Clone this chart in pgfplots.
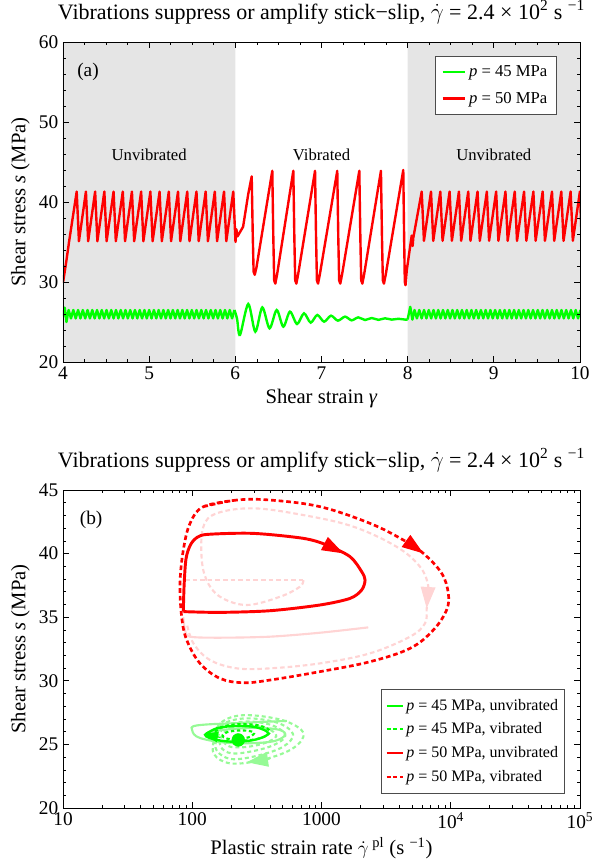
\documentclass[border=0pt]{standalone}
\usepackage{fontspec}
\setmainfont{Liberation Serif}
\usepackage{pgfplots}
\pgfplotsset{compat=1.18}
\usetikzlibrary{arrows.meta}
\definecolor{pgreen}{RGB}{0,255,0}
\definecolor{pred}{RGB}{255,0,0}
\definecolor{lgreen}{RGB}{150,250,150}
\definecolor{lpink}{RGB}{255,212,212}
\definecolor{shade}{RGB}{229,229,229}
\newcommand{\bigf}{\fontsize{14.5}{17}\selectfont}
\newcommand{\labf}{\fontsize{15.5}{18}\selectfont}
\newcommand{\titf}{\fontsize{16.5}{19}\selectfont}
\newcommand{\smf}{\fontsize{12.5}{15}\selectfont}
\newcommand{\legf}{\fontsize{12}{14}\selectfont}
\pgfplotsset{
  myaxis/.style={
    scale only axis, width=387.75pt,
    tick align=inside, xtick pos=both, ytick pos=both,
    major tick length=4.5pt, minor tick length=2.5pt,
    every tick/.style={black, line width=0.5pt},
    axis line style={black, line width=0.6pt},
    tick label style={font=\bigf},
    label style={font=\labf},
    title style={font=\titf, yshift=4pt},
    /pgf/number format/assume math mode=true,
    axis on top,
    legend cell align=left,
    legend style={font=\smf, draw=black!70, fill=white, inner xsep=5pt, inner ysep=5pt, row sep=6pt},
  },
  arr/.style={line width=0.8pt, -{Triangle[length=16pt,width=11pt]}, shorten >=0pt, forget plot},
}
\begin{document}
\begin{tikzpicture}
\path[use as bounding box] (-47.25pt,31.5pt) rectangle (408.75pt,-617.25pt);
% ---------------- panel (a)
\begin{axis}[myaxis, at={(0pt,0pt)}, anchor=north west, height=240pt,
  xmin=4, xmax=10, ymin=20, ymax=60,
  xtick={4,5,6,7,8,9,10}, minor x tick num=3,
  ytick={20,30,40,50,60}, minor y tick num=4,
  xlabel={Shear strain \textit{γ}},
  ylabel={Shear stress \textit{s} (MPa)},
  title={Vibrations suppress or amplify stick−slip, $\dot{\gamma}$ = 2.4 × 10\textsuperscript{2} s \textsuperscript{−1}},
  legend style={at={(0.9555,0.956)}, anchor=north east},
]
\addplot[draw=none, fill=shade, forget plot] coordinates {(4,20) (6,20) (6,60) (4,60) (4,20)};
\addplot[draw=none, fill=shade, forget plot] coordinates {(8,20) (10,20) (10,60) (8,60) (8,20)};
\addlegendimage{pgreen, line width=1.6pt}
\addlegendentry{\textit{p} = 45 MPa}
\addlegendimage{pred, line width=1.6pt}
\addlegendentry{\textit{p} = 50 MPa}
% red
\addplot[pred, line width=1.8pt, line join=round, forget plot] coordinates {
(4.000,29.9) (4.040,32.7) (4.070,35.0) (4.159,41.3) (4.185,35.1) (4.266,41.3) (4.292,35.1) (4.373,41.3) (4.399,35.1) (4.480,41.3) (4.506,35.1) (4.587,41.3) (4.613,35.1) (4.694,41.3) (4.720,35.1) (4.800,41.3) (4.826,35.1) (4.907,41.3) (4.933,35.1) (5.014,41.3) (5.040,35.1) (5.121,41.3) (5.147,35.1) (5.228,41.3) (5.254,35.1) (5.335,41.3) (5.361,35.1) (5.442,41.3) (5.468,35.1) (5.549,41.3) (5.575,35.1) (5.656,41.3) (5.682,35.1) (5.762,41.3) (5.788,35.1) (5.869,41.3) (5.895,35.1) (5.976,41.3) (6.002,35.0)
(6.012,36.6) (6.025,35.7) (6.090,36.9) (6.150,41.0) (6.190,43.2) (6.202,36.0) (6.212,31.3) (6.225,30.9) (6.245,31.8)
(6.429,43.9) (6.441,35.5) (6.451,30.2) (6.464,29.8) (6.484,30.9)
(6.673,43.9) (6.685,35.5) (6.695,30.2) (6.708,29.8) (6.728,30.9)
(6.925,43.9) (6.937,35.5) (6.947,30.2) (6.960,29.8) (6.980,30.9)
(7.183,43.9) (7.195,35.5) (7.205,30.2) (7.218,29.8) (7.238,30.9)
(7.439,43.9) (7.451,35.5) (7.461,30.2) (7.474,29.8) (7.494,30.9)
(7.690,43.9) (7.702,35.5) (7.712,30.2) (7.725,29.8) (7.745,30.9)
(7.949,44.0) (7.959,35.5) (7.967,30.0) (7.975,29.6) (7.990,31.5) (8.047,35.8) (8.058,34.5) (8.065,35.5) (8.163,41.3)
(8.189,35.15) (8.271,41.3) (8.297,35.15) (8.379,41.3) (8.405,35.15) (8.487,41.3) (8.513,35.15) (8.595,41.3) (8.621,35.15) (8.703,41.3) (8.729,35.15) (8.811,41.3) (8.837,35.15) (8.919,41.3) (8.945,35.15) (9.027,41.3) (9.053,35.15) (9.135,41.3) (9.161,35.15) (9.243,41.3) (9.269,35.15) (9.351,41.3) (9.377,35.15) (9.459,41.3) (9.485,35.15) (9.567,41.3) (9.593,35.15) (9.675,41.3) (9.701,35.15) (9.783,41.3) (9.809,35.15) (9.891,41.3) (9.917,35.15) (9.999,41.3) (10.02,35.15)
};
% green unvibrated 4-6
\addplot[pgreen, line width=1.8pt, line join=round, forget plot] coordinates {
(4.000,25.7) (4.020,26.8) (4.040,25.0)
(4.065,26.5) (4.0925,25.45) (4.120,26.5) (4.1475,25.45) (4.175,26.5) (4.2025,25.45) (4.230,26.5) (4.2575,25.45) (4.285,26.5) (4.3125,25.45) (4.340,26.5) (4.3675,25.45) (4.395,26.5) (4.4225,25.45) (4.450,26.5) (4.4775,25.45) (4.505,26.5) (4.5325,25.45) (4.560,26.5) (4.5875,25.45) (4.615,26.5) (4.6425,25.45) (4.670,26.5) (4.6975,25.45) (4.725,26.5) (4.7525,25.45) (4.780,26.5) (4.8075,25.45) (4.835,26.5) (4.8625,25.45) (4.890,26.5) (4.9175,25.45) (4.945,26.5) (4.9725,25.45) (5.000,26.5) (5.0275,25.45) (5.055,26.5) (5.0825,25.45) (5.110,26.5) (5.1375,25.45) (5.165,26.5) (5.1925,25.45) (5.220,26.5) (5.2475,25.45) (5.275,26.5) (5.3025,25.45) (5.330,26.5) (5.3575,25.45) (5.385,26.5) (5.4125,25.45) (5.440,26.5) (5.4675,25.45) (5.495,26.5) (5.5225,25.45) (5.550,26.5) (5.5775,25.45) (5.605,26.5) (5.6325,25.45) (5.660,26.5) (5.6875,25.45) (5.715,26.5) (5.7425,25.45) (5.770,26.5) (5.7975,25.45) (5.825,26.5) (5.8525,25.45) (5.880,26.5) (5.9075,25.45) (5.935,26.5) (5.9625,25.45) (5.990,26.5)
};
% green vibrated 6-8
\addplot[pgreen, line width=1.8pt, smooth, tension=0.5, forget plot] coordinates {
(5.990,26.5) (6.020,25.4) (6.054,23.38) (6.150,27.25) (6.232,23.79) (6.313,26.83) (6.397,24.21) (6.480,26.5) (6.557,24.42) (6.634,26.29) (6.716,24.75) (6.797,26.08) (6.874,24.92) (6.951,25.88) (7.030,25.04) (7.110,25.79) (7.190,25.17) (7.273,25.67) (7.350,25.21) (7.427,25.58) (7.505,25.25) (7.582,25.50) (7.660,25.27) (7.737,25.46) (7.815,25.30) (7.891,25.40) (7.970,25.30) (8.000,25.32)
};
% green unvibrated 8-10
\addplot[pgreen, line width=1.8pt, line join=round, forget plot] coordinates {
(8.000,25.32) (8.030,26.9) (8.055,25.3) (8.080,26.5) (8.1075,25.45) (8.135,26.5) (8.1625,25.45) (8.190,26.5) (8.2175,25.45) (8.245,26.5) (8.2725,25.45) (8.300,26.5) (8.3275,25.45) (8.355,26.5) (8.3825,25.45) (8.410,26.5) (8.4375,25.45) (8.465,26.5) (8.4925,25.45) (8.520,26.5) (8.5475,25.45) (8.575,26.5) (8.6025,25.45) (8.630,26.5) (8.6575,25.45) (8.685,26.5) (8.7125,25.45) (8.740,26.5) (8.7675,25.45) (8.795,26.5) (8.8225,25.45) (8.850,26.5) (8.8775,25.45) (8.905,26.5) (8.9325,25.45) (8.960,26.5) (8.9875,25.45) (9.015,26.5) (9.0425,25.45) (9.070,26.5) (9.0975,25.45) (9.125,26.5) (9.1525,25.45) (9.180,26.5) (9.2075,25.45) (9.235,26.5) (9.2625,25.45) (9.290,26.5) (9.3175,25.45) (9.345,26.5) (9.3725,25.45) (9.400,26.5) (9.4275,25.45) (9.455,26.5) (9.4825,25.45) (9.510,26.5) (9.5375,25.45) (9.565,26.5) (9.5925,25.45) (9.620,26.5) (9.6475,25.45) (9.675,26.5) (9.7025,25.45) (9.730,26.5) (9.7575,25.45) (9.785,26.5) (9.8125,25.45) (9.840,26.5) (9.8675,25.45) (9.895,26.5) (9.9225,25.45) (9.950,26.5) (9.9775,25.45) (10.005,26.5)
};
\node[font=\bigf] at (axis cs:4.29,56.25) {(a)};
\node[font=\smf] at (axis cs:5,45.9) {Unvibrated};
\node[font=\smf] at (axis cs:7,45.9) {Vibrated};
\node[font=\smf] at (axis cs:9,45.9) {Unvibrated};
\end{axis}
% ---------------- panel (b)
\begin{axis}[myaxis, at={(0pt,-336pt)}, anchor=north west, height=238.5pt,
  xmode=log, xmin=10, xmax=100000, ymin=20, ymax=45,
  xtick={10,100,1000,10000,100000},
  xticklabels={10,100,1000,10\textsuperscript{4},10\textsuperscript{5}},
  ytick={20,25,30,35,40,45}, minor y tick num=4,
  xlabel={Plastic strain rate $\dot{\gamma}$\textsuperscript{ pl} (s \textsuperscript{−1})},
  ylabel={Shear stress \textit{s} (MPa)},
  title={Vibrations suppress or amplify stick−slip, $\dot{\gamma}$ = 2.4 × 10\textsuperscript{2} s \textsuperscript{−1}},
  legend style={at={(0.971,0.047)}, anchor=south east, font=\legf, row sep=4pt, inner xsep=3pt},
  legend image code/.code={\draw[#1] (0cm,0cm) -- (0.42cm,0cm);},
]
\addlegendimage{pgreen, line width=1.6pt}
\addlegendentry{\textit{p} = 45 MPa, unvibrated}
\addlegendimage{pgreen, line width=1.6pt, dash pattern=on 3pt off 2pt}
\addlegendentry{\textit{p} = 45 MPa, vibrated}
\addlegendimage{pred, line width=1.6pt}
\addlegendentry{\textit{p} = 50 MPa, unvibrated}
\addlegendimage{pred, line width=1.6pt, dash pattern=on 3pt off 2pt}
\addlegendentry{\textit{p} = 50 MPa, vibrated}
% light pink transients
\addplot[lpink, line width=1.6pt, dash pattern=on 3.5pt off 2.2pt, forget plot] coordinates {(87.9,37.92) (723,37.92)};
\addplot[lpink, line width=1.6pt, dash pattern=on 3.5pt off 2.2pt, smooth, tension=0.6, forget plot] coordinates {
(723,37.92) (682,37.40) (478,36.61) (264,35.96) (164,36.61) (129,37.92) (118,39.76) (122,42.12) (155,43.17) (297,43.56) (723,43.03) (1762,42.12) (3811,40.54) (5781,38.97) (6711,37.40) (6516,35.70) (6324,34.52) (4842,33.47) (2371,32.16) (973,31.37) (400,30.98) (221,30.98) (137,31.64) (102,32.95) (90.6,34.52)
};
\addplot[lpink, line width=1.6pt, smooth, tension=0.5, forget plot] coordinates {
(2301,34.2) (973,33.78) (400,33.47) (164,33.39) (96.2,33.47) (87.9,33.99) (85.3,35.0)
};
\addplot[lpink, arr] coordinates {(6700,37.6) (6516,35.70)};
% light green transients
\addplot[lgreen, line width=1.6pt, dash pattern=on 3pt off 2.2pt, smooth, tension=0.6, forget plot] coordinates {
(144.5,25.3) (166,26.7) (251,27.3) (501,26.9) (724,25.9) (603,24.7) (355,23.8) (200,23.5) (148,24.2)
(148,25.4) (174,26.6) (263,27.05) (457,26.7) (603,25.8) (501,24.8) (316,24.1) (200,23.85) (155,24.5)
(155,25.45) (182,26.4) (263,26.8) (417,26.5) (525,25.7) (427,24.95) (288,24.45) (200,24.3) (166,24.8)
(166,25.5) (191,26.2) (263,26.5) (380,26.25) (447,25.65) (363,25.1) (263,24.8) (200,24.8) (178,25.1)
};
\addplot[lgreen, line width=1.6pt, smooth, tension=0.6, forget plot] coordinates {
(540,26.85) (250,26.7) (110,26.5) (100,26.1) (115,25.5) (200,25.1) (400,25.2) (520,25.7) (470,26.15) (300,26.3) (160,26.1) (126,25.74)
};
\addplot[lgreen, arr] coordinates {(400,23.85) (264,23.6)};
% red dashed vibrated limit cycle
\addplot[pred, line width=2pt, dash pattern=on 3.5pt off 2.2pt, smooth, tension=0.6, forget plot] coordinates {
(122,43.69) (221,44.21) (400,44.21) (973,43.69) (2371,42.38) (4295,41.07) (6138,40.02) (8511,38.45) (9572,36.88) (9290,35.57) (7328,33.99) (4842,32.55) (2371,31.50) (973,30.72) (400,30.06) (248,29.85) (164,30.19) (114.8,31.37) (90.6,33.21) (82.8,35.04) (80.4,37.66) (85.3,40.28) (96.2,42.38) (122,43.69) (221,44.21)
};
\addplot[pred, arr] coordinates {(4500,41.0) (6138,40.02)};
% red solid unvibrated limit cycle
\addplot[pred, line width=2.2pt, smooth, tension=0.5, line join=round, forget plot] coordinates {
(85.3,35.44) (86.5,37.5) (89.5,39.6) (97,40.7) (110,41.3) (135,41.52) (297,41.59) (723,41.20) (1096,40.68) (1663,39.76) (2046,38.58) (2173,37.92) (2046,37.14) (1663,36.48) (973,35.96) (400,35.51) (164,35.38) (85.3,35.44)
};
\addplot[pred, arr] coordinates {(1050,40.8) (1476,40.02)};
% green limit cycle and vibrated
\addplot[pgreen, line width=1.8pt, smooth, tension=0.6, forget plot] coordinates {
(126,25.74) (155,26.27) (221,26.45) (315,26.34) (388,25.87) (315,25.40) (221,25.21) (155,25.35) (126,25.74) (155,26.27)
};
\addplot[pgreen, line width=1.6pt, dash pattern=on 2.5pt off 2pt, smooth, tension=0.6, forget plot] coordinates {
(150,26.0) (180,26.45) (250,26.6) (340,26.45) (400,26.0) (340,25.5) (240,25.3) (175,25.55) (185,25.95) (240,26.1) (300,25.95) (280,25.6) (240,25.45) (227,25.35)
};
\addplot[pgreen, line width=0.8pt, -{Triangle[length=11pt,width=8pt]}, forget plot] coordinates {(165,25.55) (122,25.8)};
\addplot[pgreen, only marks, mark=*, mark size=4.8pt, forget plot] coordinates {(227,25.35)};
\node[font=\bigf] at (axis cs:16.5,42.64) {(b)};
\end{axis}
\end{tikzpicture}
\end{document}
